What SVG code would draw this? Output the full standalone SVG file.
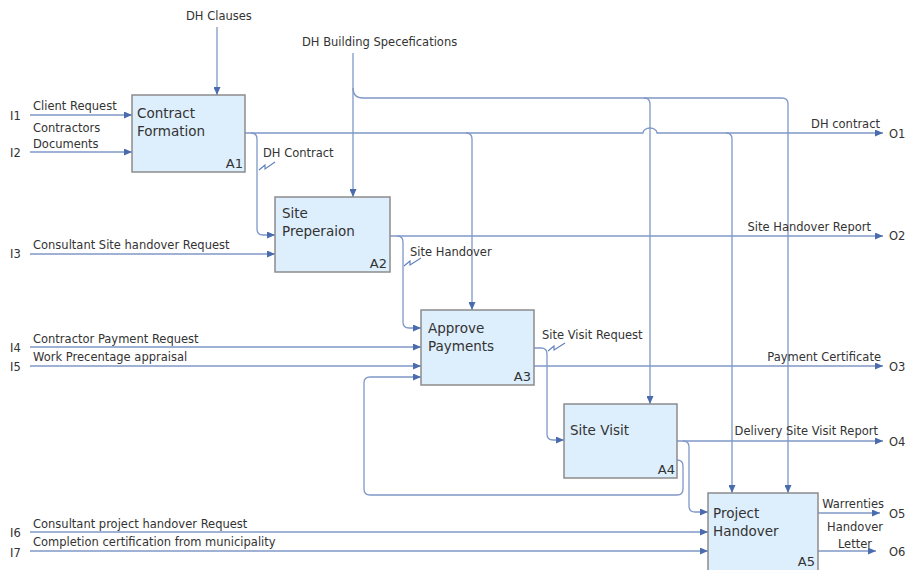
<svg xmlns="http://www.w3.org/2000/svg" width="913" height="570" viewBox="0 0 913 570">
  <style>
    .box { fill: #ddeefc; stroke: #8c8c8c; stroke-width: 1.5; }
    .name { font-family: "DejaVu Sans", Verdana, sans-serif; font-size: 13.5px; fill: #333; }
    .num { font-family: "DejaVu Sans", Verdana, sans-serif; font-size: 13px; fill: #333; text-anchor: end; }
    .lbl { font-family: "DejaVu Sans", Verdana, sans-serif; font-size: 11.5px; fill: #333; }
    .end { text-anchor: end; }
    .port { font-family: "DejaVu Sans", Verdana, sans-serif; font-size: 11.5px; fill: #333; }
    .ln { fill: none; stroke: #7f98c8; stroke-width: 1.3; }
    .arr { marker-end: url(#ah); }
    .sq { fill: none; stroke: #5f7fbd; stroke-width: 1.1; }
  </style>
  <defs>
    <marker id="ah" markerUnits="userSpaceOnUse" markerWidth="9" markerHeight="7" refX="8" refY="3.5" orient="auto">
      <path d="M0,0 L8,3.5 L0,7 Z" fill="#4a6cae"/>
    </marker>
  </defs>

  <rect width="913" height="570" fill="#ffffff"/>

  <!-- connectors -->
  <g id="connectors">
    <!-- controls -->
    <path class="ln arr" d="M217,27 V95"/>
    <path class="ln arr" d="M353,53 V197"/>
    <path class="ln arr" d="M353,88 Q353,98 363,98 H782 Q788,98 788,104 V493"/>
    <path class="ln arr" d="M644,98 Q650,98 650,104 V404"/>

    <!-- A1 output: DH contract -->
    <path class="ln arr" d="M245,133 H643 A7,5 0 0 1 657,133 H883"/>
    <path class="ln arr" d="M251,133 Q257,133 257,139 V229 Q257,235 263,235 H275"/>
    <path class="ln arr" d="M466,133 Q472,133 472,139 V310"/>
    <path class="ln arr" d="M726,133 Q732,133 732,139 V493"/>

    <!-- A2 output -->
    <path class="ln arr" d="M390,236 H883"/>
    <path class="ln arr" d="M397,236 Q403,236 403,242 V322 Q403,328 409,328 H421"/>

    <!-- A3 outputs -->
    <path class="ln arr" d="M534,366 H883"/>
    <path class="ln arr" d="M534,348 H541 Q547,348 547,354 V434 Q547,440 553,440 H564"/>

    <!-- A4 outputs -->
    <path class="ln arr" d="M677,441 H883"/>
    <path class="ln arr" d="M683,441 Q689,441 689,447 V506 Q689,512 695,512 H708"/>
    <path class="ln arr" d="M677,460 Q683,460 683,466 V489 Q683,495 677,495 H370 Q364,495 364,489 V383 Q364,377 370,377 H421"/>

    <!-- A5 outputs -->
    <path class="ln arr" d="M818,513 H880"/>
    <path class="ln arr" d="M818,551 H876"/>

    <!-- inputs -->
    <path class="ln arr" d="M30,115 H132"/>
    <path class="ln arr" d="M30,152 H132"/>
    <path class="ln arr" d="M30,254 H275"/>
    <path class="ln arr" d="M30,347 H421"/>
    <path class="ln arr" d="M30,366 H421"/>
    <path class="ln arr" d="M30,532 H708"/>
    <path class="ln arr" d="M30,551 H708"/>

    <!-- label squiggles -->
    <path class="sq" d="M259,170 L265,165 L265,169 L275,162"/>
    <path class="sq" d="M404,266 L410,261 L410,265 L421,258"/>
    <path class="sq" d="M548,351 L554,346 L554,350 L565,343"/>
  </g>

  <!-- connector labels -->
  <g id="labels">
    <text class="lbl" x="186" y="20">DH Clauses</text>
    <text class="lbl" x="302" y="46">DH Building Specefications</text>
    <text class="lbl" x="263" y="157">DH Contract</text>
    <text class="lbl" x="410" y="256">Site Handover</text>
    <text class="lbl" x="542" y="339">Site Visit Request</text>

    <text class="lbl" x="33" y="110">Client Request</text>
    <text class="lbl" x="33" y="132">Contractors</text>
    <text class="lbl" x="33" y="148">Documents</text>
    <text class="lbl" x="33" y="249">Consultant Site handover Request</text>
    <text class="lbl" x="33" y="343">Contractor Payment Request</text>
    <text class="lbl" x="33" y="361">Work Precentage appraisal</text>
    <text class="lbl" x="33" y="528">Consultant project handover Request</text>
    <text class="lbl" x="33" y="546">Completion certification from municipality</text>

    <text class="lbl end" x="880" y="128">DH contract</text>
    <text class="lbl end" x="871" y="231">Site Handover Report</text>
    <text class="lbl end" x="881" y="361">Payment Certificate</text>
    <text class="lbl end" x="878" y="435">Delivery Site Visit Report</text>
    <text class="lbl end" x="884" y="508">Warrenties</text>
    <text class="lbl end" x="883" y="531">Handover</text>
    <text class="lbl end" x="872" y="548">Letter</text>

    <text class="port" x="10" y="120">I1</text>
    <text class="port" x="10" y="157">I2</text>
    <text class="port" x="10" y="258">I3</text>
    <text class="port" x="10" y="352">I4</text>
    <text class="port" x="10" y="371">I5</text>
    <text class="port" x="10" y="537">I6</text>
    <text class="port" x="10" y="557">I7</text>

    <text class="port" x="889" y="138">O1</text>
    <text class="port" x="889" y="240">O2</text>
    <text class="port" x="889" y="371">O3</text>
    <text class="port" x="889" y="446">O4</text>
    <text class="port" x="889" y="518">O5</text>
    <text class="port" x="889" y="556">O6</text>
  </g>

  <!-- activity boxes -->
  <g id="A1">
    <rect class="box" x="132" y="95" width="113" height="77"/>
    <text class="name" x="137" y="118">Contract</text>
    <text class="name" x="137" y="136">Formation</text>
    <text class="num" x="243" y="168">A1</text>
  </g>
  <g id="A2">
    <rect class="box" x="275" y="197" width="115" height="75"/>
    <text class="name" x="282" y="218">Site</text>
    <text class="name" x="282" y="236">Preperaion</text>
    <text class="num" x="387" y="268">A2</text>
  </g>
  <g id="A3">
    <rect class="box" x="421" y="310" width="113" height="75"/>
    <text class="name" x="428" y="333">Approve</text>
    <text class="name" x="428" y="351">Payments</text>
    <text class="num" x="531" y="381">A3</text>
  </g>
  <g id="A4">
    <rect class="box" x="564" y="404" width="113" height="74"/>
    <text class="name" x="570" y="435">Site Visit</text>
    <text class="num" x="675" y="474">A4</text>
  </g>
  <g id="A5">
    <rect class="box" x="708" y="493" width="110" height="82"/>
    <text class="name" x="713" y="518">Project</text>
    <text class="name" x="713" y="536">Handover</text>
    <text class="num" x="815" y="566">A5</text>
  </g>
</svg>
